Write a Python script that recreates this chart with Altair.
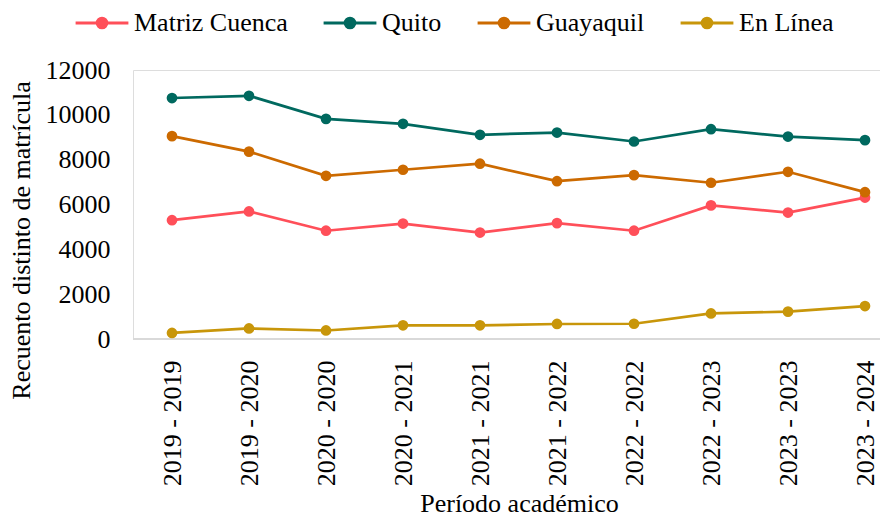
import altair as alt
import pandas as pd

periods = ["2019 - 2019", "2019 - 2020", "2020 - 2020", "2020 - 2021", "2021 - 2021",
           "2021 - 2022", "2022 - 2022", "2022 - 2023", "2023 - 2023", "2023 - 2024"]
series = ["Matriz Cuenca", "Quito", "Guayaquil", "En Línea"]
colors = ["#FF4F59", "#00695F", "#CC6A00", "#C8960A"]

matriz = [5300, 5690, 4830, 5150, 4750, 5170, 4830, 5960, 5640, 6310]
quito = [10750, 10850, 9820, 9600, 9110, 9210, 8810, 9360, 9030, 8870]
guayaquil = [9050, 8360, 7280, 7550, 7820, 7040, 7310, 6970, 7460, 6550]
en_linea = [270, 470, 380, 610, 610, 670, 680, 1140, 1220, 1470]
y_ticks = [0, 2000, 4000, 6000, 8000, 10000, 12000]

rows = []
for name, vals in zip(series, [matriz, quito, guayaquil, en_linea]):
    for p, v in zip(periods, vals):
        rows.append({"Período": p, "Sede": name, "Valor": v})
df = pd.DataFrame(rows)

FONT = "Liberation Serif"
W, H = 747, 269
legend_path = "M-1.6,0L1.6,0M-0.29,0A0.29,0.29,0,1,1,0.29,0A0.29,0.29,0,1,1,-0.29,0Z"

x_enc = alt.X("Período:N",
              scale=alt.Scale(domain=periods, range=[39, 732], padding=0),
              axis=alt.Axis(title="Período académico", labelAngle=-90, labelFont=FONT,
                            labelFontSize=26, labelColor="#000000", ticks=False, domain=False,
                            labelPadding=21, titleFont=FONT, titleFontSize=26,
                            titleFontWeight="normal", titleColor="#000000",
                            titleX=386, titleY=172, titleAlign="center",
                            titleBaseline="alphabetic"))
y_enc = alt.Y("Valor:Q",
              scale=alt.Scale(domain=[0, 12000], nice=False),
              axis=alt.Axis(title="Recuento distinto de matrícula", values=y_ticks, format="d",
                            grid=False, domain=False, ticks=False, labelPadding=23,
                            labelFont=FONT, labelFontSize=26, labelColor="#000000",
                            titleFont=FONT, titleFontSize=26, titleFontWeight="normal",
                            titleColor="#000000", titleX=-112, titleY=170, titleAngle=270,
                            titleAlign="center", titleBaseline="middle"))

lines = alt.Chart(df).mark_line(
    strokeWidth=2.7,
    point=alt.OverlayMarkDef(filled=True, size=115, opacity=1),
).encode(
    x=x_enc, y=y_enc,
    color=alt.Color("Sede:N", scale=alt.Scale(domain=series, range=colors), legend=None),
)

leg = alt.Legend(title=None, orient="none", direction="horizontal",
                 legendX=-49, legendY=-65, padding=0,
                 symbolType=legend_path, symbolSize=1089, symbolOpacity=1,
                 symbolStrokeWidth=3, labelFont=FONT, labelFontSize=26,
                 labelColor="#000000", labelOffset=14, columnPadding=29)

legend_layer = alt.Chart(df).mark_point(filled=True, size=0, strokeWidth=3, opacity=1).encode(
    x=x_enc, y=y_enc,
    fill=alt.Fill("Sede:N", scale=alt.Scale(domain=series, range=colors), legend=leg),
    stroke=alt.Stroke("Sede:N", scale=alt.Scale(domain=series, range=colors), legend=leg),
)

baseline = alt.Chart(df).mark_rule(color="#D9D9D9", strokeWidth=2).encode(
    x=alt.value(0), x2=alt.value(W), y=alt.value(H)
)

chart = alt.layer(baseline, legend_layer, lines).properties(
    width=W, height=H, autosize="none",
    padding={"left": 125, "top": 62, "right": 0, "bottom": 179},
).configure_view(stroke=None).configure(font=FONT)

chart.save("out.html", embed_options={"renderer": "svg", "actions": False})
